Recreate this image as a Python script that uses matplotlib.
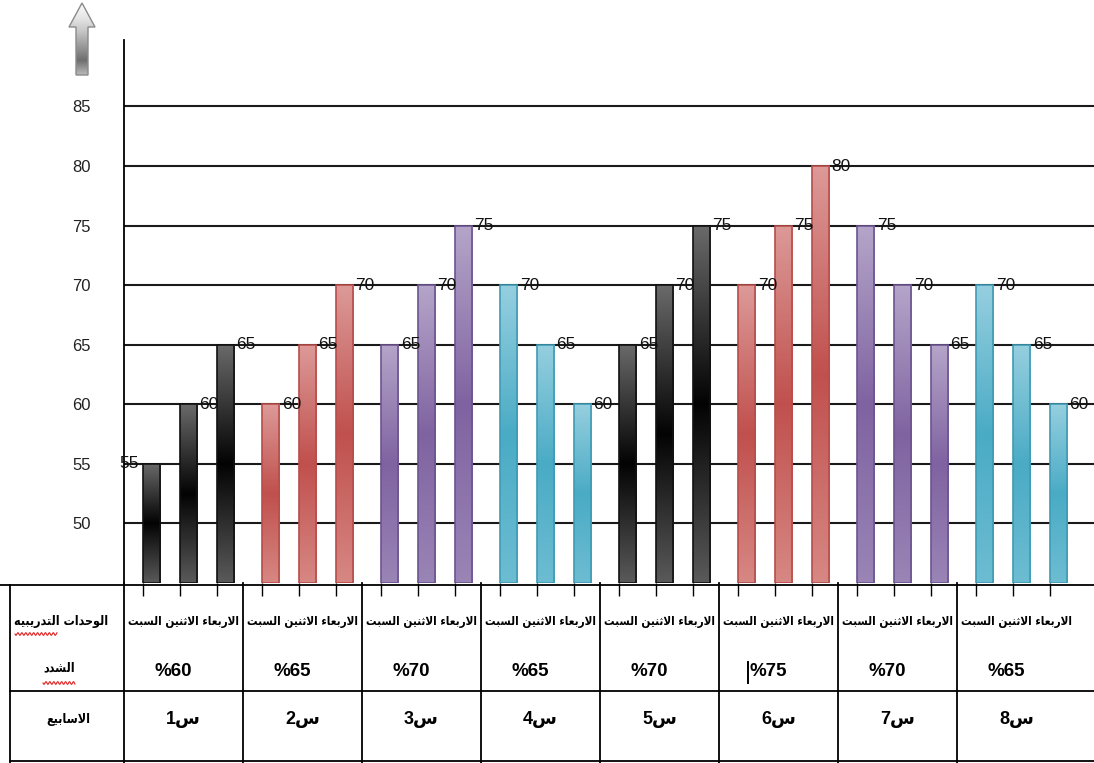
import re
import numpy as np
import matplotlib
matplotlib.use("Agg")
import matplotlib.pyplot as plt
from matplotlib.colors import LinearSegmentedColormap
from matplotlib.patches import Polygon
from matplotlib.transforms import blended_transform_factory

# ---- data ----
weeks = ["س1", "س2", "س3", "س4", "س5", "س6", "س7", "س8"]
intensity = ["60%", "65%", "70%", "65%", "70%", "75%", "70%", "65%"]
days = "الاربعاء الاثنين السبت"
row_headers = ["الوحدات التدريبيه", "الشدد", "الاسابيع"]
values = [
    [55, 60, 65],
    [60, 65, 70],
    [65, 70, 75],
    [70, 65, 60],
    [65, 70, 75],
    [70, 75, 80],
    [75, 70, 65],
    [70, 65, 60],
]
group_colors = ["black", "red", "purple", "teal", "black", "red", "purple", "teal"]
yticks = [50, 55, 60, 65, 70, 75, 80, 85]

# light, dark, bottom, edge
palette = {
    "black": ("#6a6a6a", "#030303", "#5a5a5a", "#111111"),
    "red": ("#dc9a98", "#c0504d", "#d78884", "#b84d4a"),
    "purple": ("#b5a5c9", "#7f63a1", "#9a85b6", "#6c5490"),
    "teal": ("#96cfdf", "#4aabc5", "#6dbdd2", "#3f9bb4"),
}

# ---- minimal Arabic shaping (presentation forms, visual order) ----
FORMS = {
    "ا": ("\ufe8d", "\ufe8e", None, None),
    "ب": ("\ufe8f", "\ufe90", "\ufe91", "\ufe92"),
    "ت": ("\ufe95", "\ufe96", "\ufe97", "\ufe98"),
    "ث": ("\ufe99", "\ufe9a", "\ufe9b", "\ufe9c"),
    "ح": ("\ufea1", "\ufea2", "\ufea3", "\ufea4"),
    "د": ("\ufea9", "\ufeaa", None, None),
    "ر": ("\ufead", "\ufeae", None, None),
    "س": ("\ufeb1", "\ufeb2", "\ufeb3", "\ufeb4"),
    "ش": ("\ufeb5", "\ufeb6", "\ufeb7", "\ufeb8"),
    "ع": ("\ufec9", "\ufeca", "\ufecb", "\ufecc"),
    "ل": ("\ufedd", "\ufede", "\ufedf", "\ufee0"),
    "ن": ("\ufee5", "\ufee6", "\ufee7", "\ufee8"),
    "ه": ("\ufee9", "\ufeea", "\ufeeb", "\ufeec"),
    "و": ("\ufeed", "\ufeee", None, None),
    "ي": ("\ufef1", "\ufef2", "\ufef3", "\ufef4"),
    "ء": ("\ufe80", "\ufe80", None, None),
    "لا": ("\ufefb", "\ufefc", None, None),
}
NON_JOINING = {"ء"}


def shape(text):
    letters = []
    i = 0
    while i < len(text):
        if text[i] == "ل" and i + 1 < len(text) and text[i + 1] == "ا":
            letters.append("لا")
            i += 2
        else:
            letters.append(text[i])
            i += 1

    def dual(c):
        return c in FORMS and FORMS[c][2] is not None

    out = []
    for k, c in enumerate(letters):
        if c not in FORMS:
            out.append(c)
            continue
        prev = letters[k - 1] if k > 0 else None
        nxt = letters[k + 1] if k + 1 < len(letters) else None
        jp = prev is not None and dual(prev) and c not in NON_JOINING
        jn = dual(c) and nxt in FORMS and nxt not in NON_JOINING
        iso, fin, ini, med = FORMS[c]
        if jp and jn:
            out.append(med)
        elif jp:
            out.append(fin)
        elif jn:
            out.append(ini)
        else:
            out.append(iso)
    runs = re.findall(r"[0-9]+|.", "".join(out))
    return "".join(reversed(runs))


plt.rcParams["font.family"] = ["Liberation Sans", "DejaVu Sans"]
arabic = dict(family=["DejaVu Sans"], fontstretch="condensed", fontweight="bold")

W, H = 1094, 763
fig = plt.figure(figsize=(W / 100, H / 100), dpi=100)

over = fig.add_axes([0, 0, 1, 1])
over.set_xlim(0, W)
over.set_ylim(H, 0)
over.axis("off")

ax = fig.add_axes([124 / W, (H - 583) / H, 970 / W, 543 / H])
ax.patch.set_alpha(0)

base = 45
bw = 0.43
first = 0.7
step = 0.93
lefts = []

for g, (vals, cname) in enumerate(zip(values, group_colors)):
    light, dark, bottom, edge = palette[cname]
    cmap = LinearSegmentedColormap.from_list(cname, [light, dark, bottom])
    for j, v in enumerate(vals):
        x = g * 3 + first + j * step
        lefts.append(x - bw / 2)
        rect = ax.bar(x, v - base, bottom=base, width=bw, facecolor="none",
                      edgecolor=edge, linewidth=1.2, zorder=3)[0]
        grad = np.linspace(0, 1, 256).reshape(-1, 1)
        im = ax.imshow(grad, cmap=cmap, aspect="auto", origin="upper",
                       extent=[x - bw / 2, x + bw / 2, base, v], zorder=2)
        im.set_clip_path(rect)
        if g == 0 and j == 0:
            ax.text(x - bw / 2 - 0.1, v, str(v), ha="right", va="center",
                    fontsize=12.5, color="#111111", zorder=4)
        else:
            ax.text(x + bw / 2 + 0.06, v, str(v), ha="left", va="center",
                    fontsize=12.5, color="#111111", zorder=4)

ax.set_xlim(0, 970 / 39.67)
ax.set_ylim(base, base + 543 / 11.914)
ax.set_yticks(yticks)
ax.yaxis.grid(True, color="#1a1a1a", linewidth=1.5)
ax.set_axisbelow(True)
ax.tick_params(axis="y", length=0, pad=24, labelsize=12, labelcolor="#222222")
ax.set_xticks(lefts)
ax.tick_params(axis="x", direction="out", length=9.4, width=1, labelbottom=False)
for s in ["top", "right", "bottom"]:
    ax.spines[s].set_visible(False)
ax.spines["left"].set_linewidth(1.3)

# ---- table under the chart ----
blend = blended_transform_factory(ax.transData, over.transData)
line_kw = dict(color="black", linewidth=1.3)
over.plot([0, W], [585, 585], **line_kw)
over.plot([10, W], [691, 691], **line_kw)
over.plot([10, W], [761, 761], **line_kw)
over.plot([10, 10], [585, H], **line_kw)
for g in range(len(values)):
    over.plot([g * 3, g * 3], [583, H], transform=blend, **line_kw)
    cx = g * 3 + 1.5
    over.text(cx, 622, shape(days), transform=blend, ha="center", va="center",
              fontsize=8.5, **arabic)
    over.text(cx - 0.25, 671, shape(intensity[g]), transform=blend,
              ha="center", va="center", fontsize=13.5, fontweight="bold")
    over.text(cx, 720, shape(weeks[g]), transform=blend, ha="center",
              va="center", fontsize=13, fontweight="bold")

# text caret left of the 75% cell
over.plot([15.72, 15.72], [662, 683], transform=blend, color="black", linewidth=1.4)

for text, (tx, ty) in zip(row_headers, [(61, 622), (59, 668), (68, 720)]):
    over.text(tx, ty, shape(text), ha="center", va="center", fontsize=9,
              **arabic)

# spell-check squiggles
for x0, x1, y0 in [(15, 57, 634), (43, 75, 683)]:
    xw = np.linspace(x0, x1, 120)
    over.plot(xw, y0 + 1.3 * np.sin((xw - x0) * 1.6), color="#e02020", linewidth=0.8)

# up arrow above the value axis
arrow_pts = [(82, 3), (95, 27), (88, 27), (88, 75), (76, 75), (76, 27), (69, 27)]
arrow = Polygon(arrow_pts, closed=True, facecolor="none", edgecolor="#8a8a8a",
                linewidth=1.0, zorder=3)
over.add_patch(arrow)
agrad = np.tile(np.linspace(0, 1, 80).reshape(-1, 1), (1, 20))
acmap = LinearSegmentedColormap.from_list(
    "arrow", ["#fbfbfb", "#e6e6e6", "#c4c4c4", "#9a9a9a", "#6e6e6e", "#b8b8b8"])
aim = over.imshow(agrad, cmap=acmap, aspect="auto", extent=[69, 95, 75, 3], zorder=2)
aim.set_clip_path(arrow)
over.set_xlim(0, W)
over.set_ylim(H, 0)

fig.savefig("out.png", dpi=100)
